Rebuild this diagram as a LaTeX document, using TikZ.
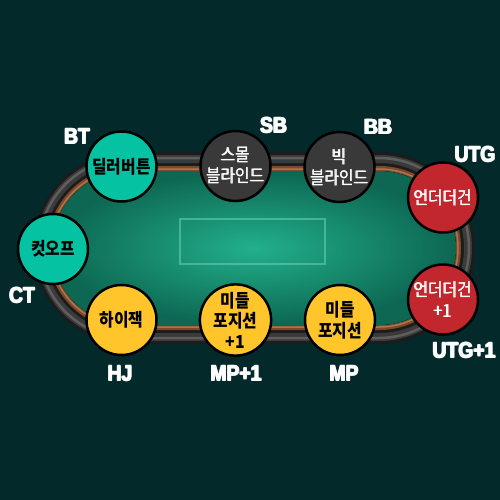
\documentclass[tikz,border=0pt]{standalone}
\usepackage{fontspec}
\newfontfamily\krb{Noto Sans CJK KR}[FakeStretch=0.88]
\newfontfamily\krw{Noto Sans CJK KR}[FakeStretch=0.88]
\newfontfamily\lbl{Liberation Sans Bold}[FakeStretch=0.88]
\newcommand\heavytxt[1]{\rlap{#1}\rlap{\kern1.1pt #1}\rlap{\raisebox{0.8pt}{#1}}\rlap{\kern1.1pt\raisebox{0.8pt}{#1}}\phantom{#1}\kern1.1pt}
\newcommand\medtxt[1]{\rlap{#1}\rlap{\kern0.45pt #1}\phantom{#1}\kern0.45pt}
\definecolor{bg}{HTML}{03292B}
\definecolor{railA}{HTML}{1C1C1C}
\definecolor{railB}{HTML}{3A3A3A}
\definecolor{railC}{HTML}{5E5E5E}
\definecolor{brownA}{HTML}{7B4A2C}
\definecolor{brownB}{HTML}{B07448}
\definecolor{feltA}{HTML}{22B08C}
\definecolor{feltB}{HTML}{0D6752}
\definecolor{teal}{HTML}{05C3A2}
\definecolor{darkseat}{HTML}{393939}
\definecolor{redseat}{HTML}{C1272D}
\definecolor{yellowseat}{HTML}{FFC52B}
\definecolor{boxline}{HTML}{6AD3B6}
\tikzset{
  seat/.style={circle, draw=black, line width=2.5pt, minimum size=70pt, inner sep=0pt, align=center},
  seatdark/.style={seat, fill=teal, font=\krb\bfseries\fontsize{18}{21}\selectfont, text=black},
  seatyel/.style={seat, fill=yellowseat, font=\krb\bfseries\fontsize{18}{20.5}\selectfont, text=black},
  seatgray/.style={seat, fill=darkseat, font=\krw\fontsize{18}{21}\selectfont, text=white},
  seatred/.style={seat, fill=redseat, font=\krw\fontsize{18}{21}\selectfont, text=white},
  poslabel/.style={anchor=base, inner sep=0pt, text=white, font=\lbl\fontsize{22}{24}\selectfont}
}
\begin{document}
\begin{tikzpicture}[x=1pt,y=-1pt]
\useasboundingbox (0,0) rectangle (500,500);
\fill[bg] (0,0) rectangle (500,500);
% rail
\fill[railA, rounded corners=95.9pt] (33,152) rectangle (475,344);
\draw[railB, line width=8pt, rounded corners=88.9pt] (40,159) rectangle (468,337);
\draw[railC, line width=2.5pt, rounded corners=89.9pt] (39,158) rectangle (469,338);
\draw[brownA, line width=5pt, rounded corners=79.4pt] (49.5,168.5) rectangle (458.5,327.5);
\draw[brownB, line width=1.5pt, rounded corners=78.9pt] (50,169) rectangle (458,327);
% felt
\fill[inner color=feltA, outer color=feltB, rounded corners=76.9pt] (52,171) rectangle (456,325);
\draw[boxline, opacity=0.55, line width=1.2pt] (180,219) rectangle (325,264);
% seats
\node[seatdark] (bt) at (121.5,166.5) {딜러버튼};
\node[seatgray] (sb) at (235.5,166) {\medtxt{스몰}\\\medtxt{블라인드}};
\node[seatgray] (bb) at (339.5,167) {\medtxt{빅}\\\medtxt{블라인드}};
\node[seatred] (utg) at (443,197.5) {\medtxt{언더더건}};
\node[seatred] (utga) at (443,299.5) {\medtxt{언더더건}\\\medtxt{+1}};
\node[seatyel] (mp) at (340,320) {미들\\포지션};
\node[seatyel] (mpa) at (235.5,320) {미들\\포지션\\+1};
\node[seatyel] (hj) at (121.5,320) {하이잭};
\node[seatdark] (ct) at (53,249) {컷오프};
% labels
\node[poslabel] (lbt) at (77,144) {\heavytxt{BT}};
\node[poslabel] (lsb) at (273.5,133) {\heavytxt{SB}};
\node[poslabel] (lbb) at (378,135) {\heavytxt{BB}};
\node[poslabel] (lutg) at (475,162) {\heavytxt{UTG}};
\node[poslabel] (lct) at (22,303) {\heavytxt{CT}};
\node[poslabel] (lhj) at (120,381) {\heavytxt{HJ}};
\node[poslabel] (lmpa) at (236,381) {\heavytxt{MP+1}};
\node[poslabel] (lmp) at (344,381) {\heavytxt{MP}};
\node[poslabel] (lutga) at (464,358) {\heavytxt{UTG+1}};
\end{tikzpicture}
\end{document}
